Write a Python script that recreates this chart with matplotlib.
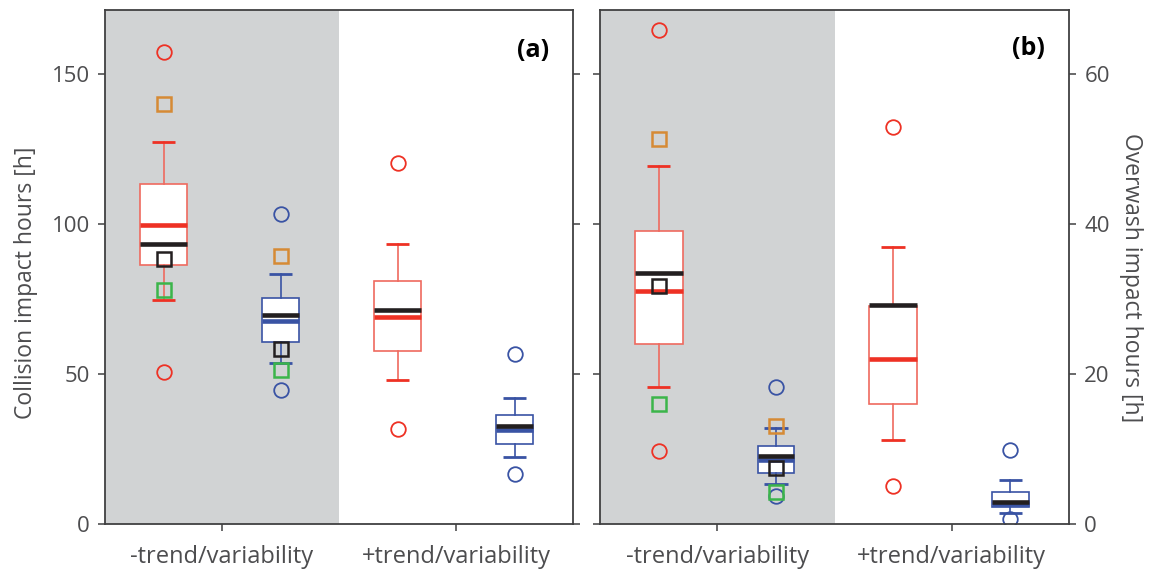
import matplotlib
matplotlib.use('Agg')
import matplotlib.pyplot as plt

plt.rcParams['font.family'] = ['Open Sans', 'DejaVu Sans']

groups = ['-trend/variability', '+trend/variability']

# ---- Panel (a): collision impact hours ----
col_red_q1 = [86.3, 57.8]
col_red_med = [99.7, 69.0]
col_red_q3 = [113.3, 80.9]
col_red_black = [93.2, 71.4]
col_red_whislo = [74.8, 47.9]
col_red_whishi = [127.4, 93.3]
col_red_fliers = [[157.3, 50.7], [120.4, 31.6]]

col_blue_q1 = [60.6, 26.7]
col_blue_med = [67.8, 31.2]
col_blue_q3 = [75.3, 36.3]
col_blue_black = [69.7, 32.8]
col_blue_whislo = [53.7, 22.4]
col_blue_whishi = [83.3, 41.9]
col_blue_fliers = [[103.2, 44.7], [56.7, 16.7]]

# squares for -trend group only: [red box, blue box]
col_sq_black = [88.2, 58.4]
col_sq_orange = [140.1, 89.4]
col_sq_green = [78.1, 51.2]

# ---- Panel (b): overwash impact hours ----
ow_red_q1 = [24.0, 16.0]
ow_red_med = [31.0, 22.0]
ow_red_q3 = [39.1, 29.0]
ow_red_black = [33.5, 29.2]
ow_red_whislo = [18.3, 11.2]
ow_red_whishi = [47.7, 36.9]
ow_red_fliers = [[65.8, 9.7], [52.9, 5.0]]

ow_blue_q1 = [6.8, 2.2]
ow_blue_med = [8.5, 2.7]
ow_blue_q3 = [10.4, 4.2]
ow_blue_black = [9.1, 2.9]
ow_blue_whislo = [5.3, 1.4]
ow_blue_whishi = [12.8, 5.9]
ow_blue_fliers = [[18.2, 3.7], [9.8, 0.6]]

ow_sq_black = [31.7, 7.4]
ow_sq_orange = [51.3, 13.1]
ow_sq_green = [16.0, 4.3]

RED = '#EE3124'
RED_L = '#EF6A5F'
BLUE = '#3953A4'
BLACK = '#231F20'
ORANGE = '#D68A35'
GREEN = '#3BB54A'
GRAY_BG = '#D1D3D4'
TXT = '#4D4D4F'
SPINE = '#404041'


def make_stats(q1, med, q3, black, lo, hi, fl):
    return [dict(q1=q1[i], med=med[i], q3=q3[i], mean=black[i],
                 whislo=lo[i], whishi=hi[i], fliers=fl[i]) for i in range(len(q1))]


def draw_boxes(ax, stats, positions, width, color, lcolor):
    ax.bxp(stats, positions=positions, widths=width, capwidths=0.2,
           showmeans=True, meanline=True, patch_artist=True,
           boxprops=dict(facecolor='white', edgecolor=lcolor, linewidth=1.2),
           medianprops=dict(color=color, linewidth=3.3, solid_capstyle='butt'),
           meanprops=dict(color=BLACK, linewidth=3.3, linestyle='-', solid_capstyle='butt'),
           whiskerprops=dict(color=lcolor, linewidth=1.2),
           capprops=dict(color=color, linewidth=2.0, solid_capstyle='butt'),
           flierprops=dict(marker='o', markerfacecolor='none', markeredgecolor=color,
                           markersize=10.5, markeredgewidth=1.3))


def panel(ax, red, blue, sq_black, sq_orange, sq_green, ymax):
    ax.axvspan(0, 2, color=GRAY_BG, zorder=0, lw=0)
    red_pos = [0.5, 2.5]
    blue_pos = [1.5, 3.5]
    draw_boxes(ax, red, red_pos, 0.41, RED, RED_L)
    draw_boxes(ax, blue, blue_pos, 0.31, BLUE, BLUE)
    sq_x = [red_pos[0], blue_pos[0]]
    kw = dict(linestyle='none', marker='s', markerfacecolor='none', markersize=10.5,
              markeredgewidth=1.8, zorder=5)
    ax.plot(sq_x, sq_orange, markeredgecolor=ORANGE, **kw)
    ax.plot(sq_x, sq_green, markeredgecolor=GREEN, **kw)
    ax.plot(sq_x, sq_black, markeredgecolor=BLACK, **kw)
    ax.set_xlim(0, 4)
    ax.set_ylim(0, ymax)
    ax.set_xticks([1, 3])
    ax.set_xticklabels(groups)
    for s in ax.spines.values():
        s.set_color(SPINE)
        s.set_linewidth(1.3)
    ax.tick_params(axis='x', direction='out', length=5, width=1.1, color=SPINE,
                   labelsize=17, labelcolor=TXT, pad=10)
    ax.tick_params(axis='y', direction='out', length=5, width=1.1, color=SPINE,
                   labelsize=16, labelcolor=TXT, pad=6, left=True, right=True)


fig = plt.figure(figsize=(11.51, 5.74), dpi=100)
ax1 = fig.add_axes([105 / 1151, 1 - 524 / 574, 468 / 1151, 514 / 574])
ax2 = fig.add_axes([600 / 1151, 1 - 524 / 574, 469 / 1151, 514 / 574])

panel(ax1,
      make_stats(col_red_q1, col_red_med, col_red_q3, col_red_black,
                 col_red_whislo, col_red_whishi, col_red_fliers),
      make_stats(col_blue_q1, col_blue_med, col_blue_q3, col_blue_black,
                 col_blue_whislo, col_blue_whishi, col_blue_fliers),
      col_sq_black, col_sq_orange, col_sq_green, 171.3)
ax1.set_yticks([0, 50, 100, 150])
ax1.tick_params(axis='y', labelleft=True, labelright=False)
ax1.set_ylabel('Collision impact hours [h]', fontsize=16.5, color=TXT, labelpad=10)
ax1.yaxis.label.set_y(0.47)
ax1.text(0.915, 0.922, '(a)', transform=ax1.transAxes, fontsize=18,
         fontweight='bold', ha='center', va='center', color='black')

panel(ax2,
      make_stats(ow_red_q1, ow_red_med, ow_red_q3, ow_red_black,
                 ow_red_whislo, ow_red_whishi, ow_red_fliers),
      make_stats(ow_blue_q1, ow_blue_med, ow_blue_q3, ow_blue_black,
                 ow_blue_whislo, ow_blue_whishi, ow_blue_fliers),
      ow_sq_black, ow_sq_orange, ow_sq_green, 68.5)
ax2.set_yticks([0, 20, 40, 60])
ax2.tick_params(axis='y', labelleft=False, labelright=True)
ax2.yaxis.set_label_position('right')
ax2.set_ylabel('Overwash impact hours [h]', fontsize=16.5, color=TXT,
               rotation=270, labelpad=24)
ax2.yaxis.label.set_y(0.48)
ax2.text(0.913, 0.925, '(b)', transform=ax2.transAxes, fontsize=18,
         fontweight='bold', ha='center', va='center', color='black')

fig.savefig('out.png', dpi=100)
